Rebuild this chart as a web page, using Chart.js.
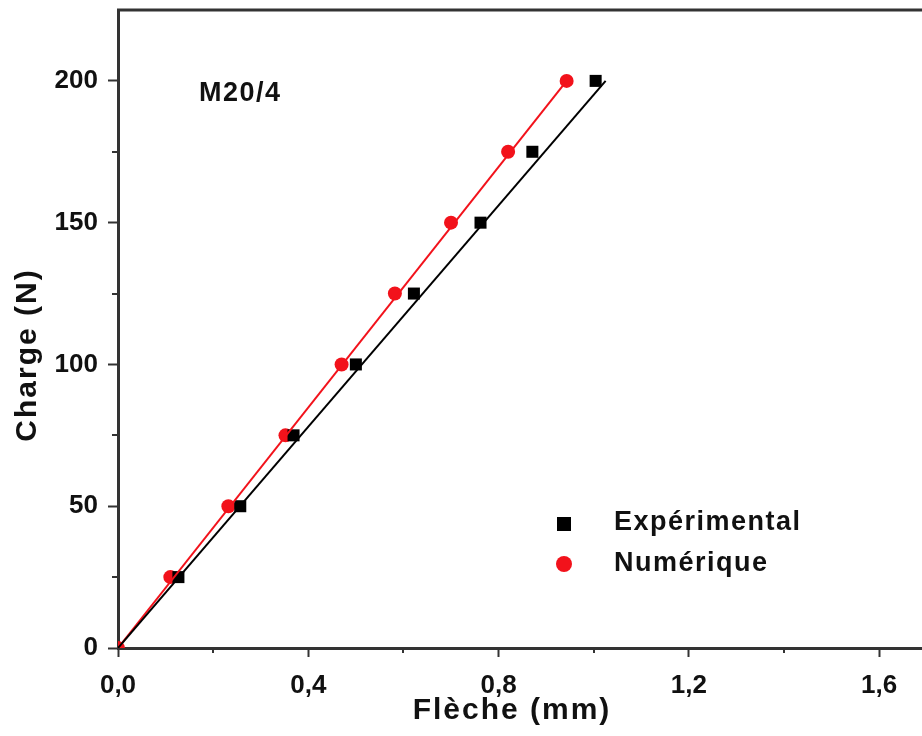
<!DOCTYPE html>
<html>
<head>
<meta charset="utf-8">
<script src="https://cdn.jsdelivr.net/npm/chart.js@4"></script>
<style>
    body { margin: 0; background: #fff; }
    canvas { display: block; }
</style>
</head>
<body>
<canvas id="chart" width="922" height="736"></canvas>
<script>
// Data
const loads = [25, 50, 75, 100, 125, 150, 175, 200];
const expDeflection = [0.127, 0.257, 0.369, 0.50, 0.622, 0.762, 0.871, 1.004];
const numLoads = [0, 25, 50, 75, 100, 125, 150, 175, 200];
const numDeflection = [0, 0.11, 0.232, 0.352, 0.47, 0.582, 0.70, 0.82, 0.943];

// Straight lines through each series
const expFitX = [0, 1.025];
const expFitY = [0, 200];
const numFitX = [0, 0.943];
const numFitY = [0, 200];

// Axis ticks
const xTicks = [0, 0.4, 0.8, 1.2, 1.6];
const xMinorTicks = [0.2, 0.6, 1.0, 1.4];
const yTicks = [0, 50, 100, 150, 200];
const yMinorTicks = [25, 75, 125, 175];

const labelSeries = 'M20/4';
const legendItems = ['Expérimental', 'Numérique'];
const xTitle = 'Flèche (mm)';
const yTitle = 'Charge (N)';

const FONT = "'Liberation Sans', Arial, sans-serif";
const AXIS_COLOR = '#333';
const RED = '#f2121b';

const toPoints = (xs, ys) => xs.map((x, i) => ({ x: x, y: ys[i] }));

// Frame, minor ticks, titles, annotation and legend
const decorations = {
    id: 'decorations',
    afterDraw(chart) {
        const ctx = chart.ctx;
        const area = chart.chartArea;
        const xs = chart.scales.x;
        const ys = chart.scales.y;

        ctx.save();
        // top frame line
        ctx.strokeStyle = AXIS_COLOR;
        ctx.lineWidth = 3;
        ctx.beginPath();
        ctx.moveTo(area.left - 1, area.top);
        ctx.lineTo(area.right, area.top);
        ctx.stroke();

        // minor ticks
        ctx.lineWidth = 2;
        ctx.beginPath();
        xMinorTicks.forEach(v => {
            const px = Math.round(xs.getPixelForValue(v));
            ctx.moveTo(px, area.bottom);
            ctx.lineTo(px, area.bottom + 5);
        });
        yMinorTicks.forEach(v => {
            const py = Math.round(ys.getPixelForValue(v));
            ctx.moveTo(area.left, py);
            ctx.lineTo(area.left - 6, py);
        });
        ctx.stroke();

        ctx.fillStyle = '#111';
        ctx.textAlign = 'center';
        ctx.textBaseline = 'middle';

        // axis titles
        ctx.letterSpacing = '2px';
        ctx.font = 'bold 30px ' + FONT;
        ctx.fillText(xTitle, 512, 711);
        ctx.save();
        ctx.translate(28, 355);
        ctx.rotate(-Math.PI / 2);
        ctx.fillText(yTitle, 0, 0);
        ctx.restore();

        // sample label
        ctx.letterSpacing = '1.5px';
        ctx.font = 'bold 27px ' + FONT;
        ctx.textAlign = 'left';
        ctx.fillText(labelSeries, 199, 94);

        // legend
        ctx.fillText(legendItems[0], 614, 523);
        ctx.fillText(legendItems[1], 614, 564);
        ctx.fillStyle = '#000';
        ctx.fillRect(557, 517, 14, 14);
        ctx.fillStyle = RED;
        ctx.beginPath();
        ctx.arc(564, 564, 8, 0, Math.PI * 2);
        ctx.fill();
        ctx.restore();
    }
};

const tickFont = { family: FONT, size: 26, weight: 'bold' };

new Chart(document.getElementById('chart'), {
    type: 'scatter',
    data: {
        datasets: [
            {
                type: 'line',
                label: 'fit exp',
                data: toPoints(expFitX, expFitY),
                borderColor: '#000',
                borderWidth: 2,
                pointRadius: 0,
                fill: false
            },
            {
                type: 'line',
                label: 'fit num',
                data: toPoints(numFitX, numFitY),
                borderColor: RED,
                borderWidth: 2,
                pointRadius: 0,
                fill: false
            },
            {
                label: legendItems[0],
                data: toPoints(expDeflection, loads),
                pointStyle: 'rect',
                pointRadius: 8.5,
                backgroundColor: '#000',
                borderWidth: 0
            },
            {
                label: legendItems[1],
                data: toPoints(numDeflection, numLoads),
                pointStyle: 'circle',
                pointRadius: 7,
                backgroundColor: RED,
                borderWidth: 0
            }
        ]
    },
    options: {
        responsive: false,
        animation: false,
        layout: { autoPadding: false, padding: { top: 10, right: 0, left: 0, bottom: 0 } },
        plugins: {
            legend: { display: false },
            tooltip: { enabled: false }
        },
        scales: {
            x: {
                type: 'linear',
                min: 0,
                max: 1.69,
                afterFit: s => {
                    s.height = 88;
                    s.paddingLeft = 0;
                    s.paddingRight = 0;
                },
                afterBuildTicks: s => { s.ticks = xTicks.map(v => ({ value: v })); },
                border: { color: AXIS_COLOR, width: 3 },
                grid: { drawOnChartArea: false, tickLength: 9, tickColor: AXIS_COLOR, tickWidth: 2 },
                ticks: {
                    font: tickFont,
                    color: '#111',
                    padding: 13,
                    maxRotation: 0,
                    callback: v => v.toFixed(1).replace('.', ',')
                }
            },
            y: {
                type: 'linear',
                min: 0,
                max: 225,
                afterFit: s => {
                    s.width = 118;
                    s.paddingTop = 0;
                    s.paddingBottom = 0;
                },
                afterBuildTicks: s => { s.ticks = yTicks.map(v => ({ value: v })); },
                border: { color: AXIS_COLOR, width: 3 },
                grid: { drawOnChartArea: false, tickLength: 10, tickColor: AXIS_COLOR, tickWidth: 2 },
                ticks: {
                    font: tickFont,
                    color: '#111',
                    padding: 10,
                    callback: v => String(v)
                }
            }
        }
    },
    plugins: [decorations]
});
</script>
</body>
</html>
